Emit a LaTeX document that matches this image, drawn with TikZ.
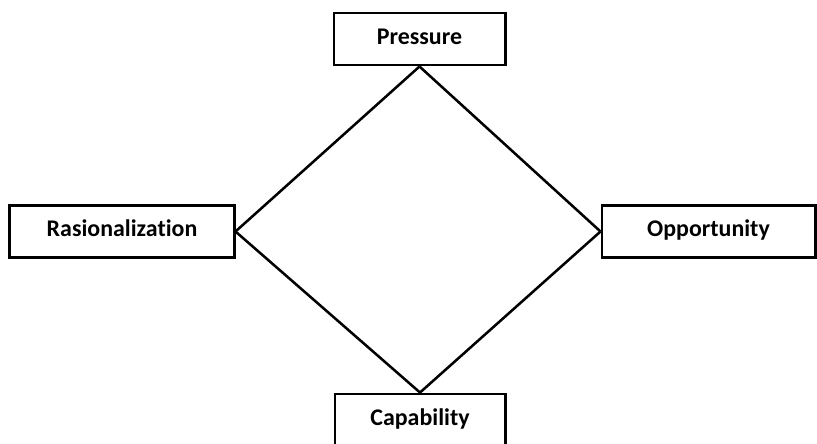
\documentclass[tikz,border=0pt]{standalone}
\usepackage{fontspec}
\setmainfont{Carlito}[Ligatures=NoCommon]
\usetikzlibrary{positioning}

\begin{document}
\begin{tikzpicture}[x=0.025cm, y=-0.025cm,
    factor/.style={draw, line width=2.1pt, minimum height=1.3cm, inner sep=0pt,
        text height=1.6ex, text depth=0.05ex,
        font=\fontsize{17}{19}\selectfont\bfseries},
    side/.style={line width=1.8pt}]
    % canvas
    \useasboundingbox (0,0) rectangle (817,443);
    \clip (0,0) rectangle (817,443);

    % Fraud diamond corners
    \node[factor, minimum width=4.275cm] (pressure) at (419.5,39) {Pressure};
    \node[factor, minimum width=5.6cm] (rational) at (122,231.5) {Rasionalization};
    \node[factor, minimum width=5.325cm] (opportunity) at (708.5,231.5) {Opportunity};
    \node[factor, minimum width=4.25cm] (capability) at (420,420) {Capability};

    % Diamond sides
    \draw[side] (pressure.south) -- (rational.east);
    \draw[side] (rational.east) -- (capability.north);
    \draw[side] (capability.north) -- (opportunity.west);
    \draw[side] (opportunity.west) -- (pressure.south);
\end{tikzpicture}
\end{document}
